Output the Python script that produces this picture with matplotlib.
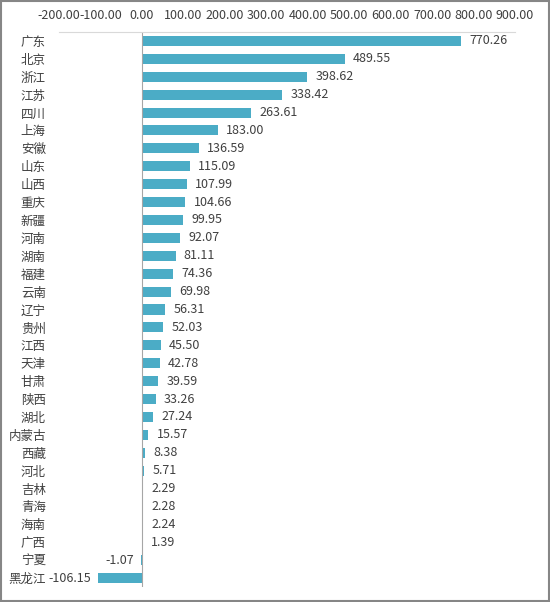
import numpy as np
import matplotlib
matplotlib.use('Agg')
import matplotlib.pyplot as plt
from matplotlib.patches import Rectangle

plt.rcParams['font.family'] = ['Noto Sans CJK SC', 'DejaVu Sans']

# provinces and values (top to bottom)
provinces = ['广东', '北京', '浙江', '江苏', '四川', '上海', '安徽', '山东', '山西', '重庆',
             '新疆', '河南', '湖南', '福建', '云南', '辽宁', '贵州', '江西', '天津', '甘肃',
             '陕西', '湖北', '内蒙古', '西藏', '河北', '吉林', '青海', '海南', '广西', '宁夏', '黑龙江']
values = [770.26, 489.55, 398.62, 338.42, 263.61, 183.00, 136.59, 115.09, 107.99, 104.66,
          99.95, 92.07, 81.11, 74.36, 69.98, 56.31, 52.03, 45.50, 42.78, 39.59,
          33.26, 27.24, 15.57, 8.38, 5.71, 2.29, 2.28, 2.24, 1.39, -1.07, -106.15]
xticks = np.arange(-200, 901, 100)

fig = plt.figure(figsize=(5.5, 6.02), dpi=100)
ax = fig.add_axes([59/550, 1-587/602, (515-59)/550, (587-32)/602])

y = np.arange(len(provinces))
ax.barh(y, values, height=0.56, color='#4bacc6')
ax.set_ylim(len(provinces)-0.5, -0.5)
ax.set_xlim(-200, 900)

ax.set_xticks(xticks)
ax.set_xticklabels(['%.2f' % t for t in xticks], fontsize=9, color='#404040')
ax.xaxis.tick_top()
ax.tick_params(axis='x', length=0, pad=7)
ax.set_yticks(y)
ax.set_yticklabels(provinces, fontsize=9, color='#404040')
ax.tick_params(axis='y', length=0, pad=9.5)

for s in ['left', 'right', 'bottom']:
    ax.spines[s].set_visible(False)
ax.spines['top'].set_color('#d9d9d9')
ax.axvline(0, color='#a6a6a6', lw=0.8)

for yi, v in zip(y, values):
    if v >= 0:
        ax.annotate('%.2f' % v, (v, yi), xytext=(6, 0), textcoords='offset points',
                    ha='left', va='center', fontsize=9, color='#404040')
    else:
        ax.annotate('%.2f' % v, (v, yi), xytext=(-5, 0), textcoords='offset points',
                    ha='right', va='center', fontsize=9, color='#404040')

fig.patches.append(Rectangle((0.001, 0.001), 0.997, 0.997, transform=fig.transFigure,
                             fill=False, edgecolor='#868686', lw=1.5))

fig.savefig('out.png', dpi=100)
